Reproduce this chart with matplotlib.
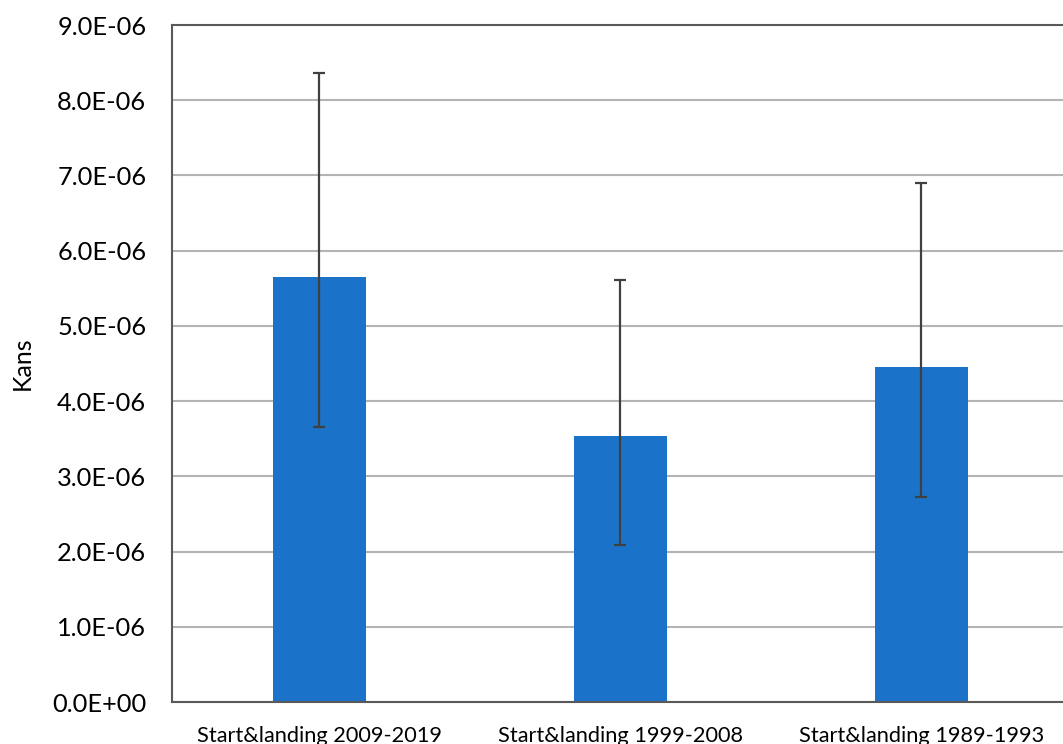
import numpy as np
from matplotlib import pyplot as plt
from matplotlib.ticker import FuncFormatter

categories = ['Start&landing 2009-2019', 'Start&landing 1999-2008', 'Start&landing 1989-1993']
values = [5.65e-6, 3.54e-6, 4.45e-6]
err_low = [3.66e-6, 2.09e-6, 2.73e-6]
err_high = [8.36e-6, 5.61e-6, 6.90e-6]

plt.rcParams['font.family'] = ['Lato', 'DejaVu Sans']

fig = plt.figure(figsize=(10.63, 7.44), dpi=100)
ax = fig.add_axes([172 / 1063, 1 - 702 / 744, 906 / 1063, 677 / 744])

x = np.arange(len(categories))
v = np.array(values)
yerr = [v - np.array(err_low), np.array(err_high) - v]

ax.bar(x, v, width=0.306, color='#1a73c8', zorder=2)
ax.errorbar(x, v, yerr=yerr, fmt='none', ecolor='#404040', elinewidth=1.6,
            capsize=4.5, capthick=1.6, zorder=3)

ax.set_xlim(-0.49, 2.52)
ax.set_ylim(0, 9e-6)
ax.set_yticks(np.arange(0, 9.01e-6, 1e-6))

def fmt(val, pos):
    s = '%.1E' % val
    return s

ax.yaxis.set_major_formatter(FuncFormatter(fmt))
ax.set_xticks(x)
ax.set_xticklabels(categories, fontsize=15.7)
ax.tick_params(axis='y', labelsize=18.3, length=0, pad=18.5)
ax.tick_params(axis='x', length=0, pad=17)
ax.grid(axis='y', color='#b4b4b4', linewidth=1.5, zorder=0)
ax.set_axisbelow(True)

for side in ['left', 'bottom', 'top']:
    ax.spines[side].set_color('#595959')
    ax.spines[side].set_linewidth(1.5)
ax.spines['right'].set_visible(False)

ax.set_ylabel('Kans', fontsize=18)
ax.yaxis.set_label_coords(-0.153, 0.5)

fig.savefig('out.png', dpi=100)
